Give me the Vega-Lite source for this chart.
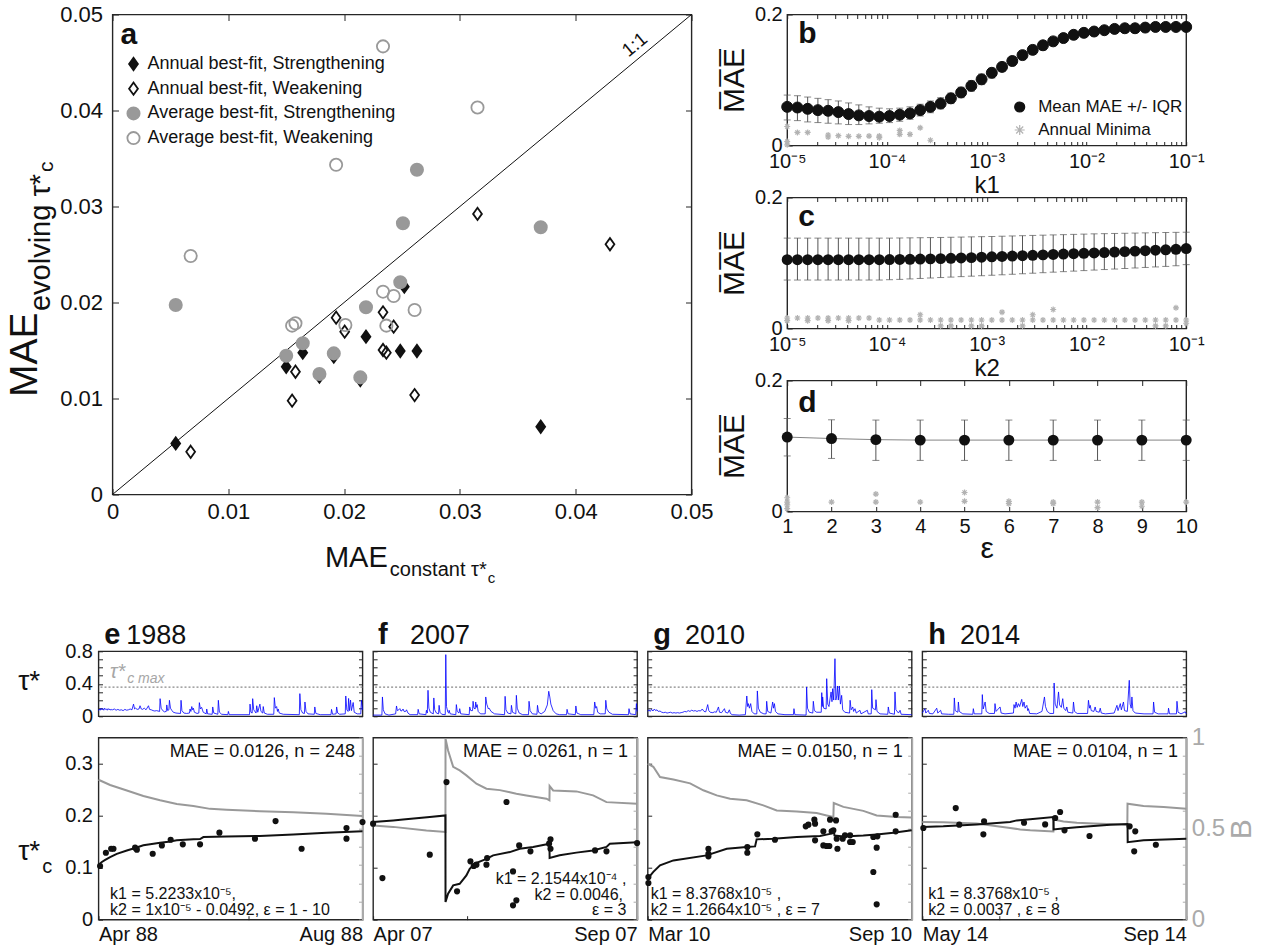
{
"$schema":"https://vega.github.io/schema/vega-lite/v6.json",
"background":"white",
"padding":{"left":4.5,"top":2.5,"right":5,"bottom":5},
"config":{
 "font":"Liberation Sans",
 "view":{"stroke":"#262626","strokeWidth":1.4},
 "axis":{"grid":false,"domain":false,"labelFont":"Liberation Sans","labelFontSize":20,"labelColor":"#111","titleFont":"Liberation Sans","titleFontWeight":"normal","titleColor":"#111","tickColor":"#262626","tickSize":-5,"tickWidth":1,"labelPadding":13,"labelFlush":false,"labelOverlap":false},
 "legend":{"labelFont":"Liberation Sans","labelColor":"#111","labelLimit":400},
 "text":{"font":"Liberation Sans","color":"#111"}
},
"resolve":{"scale":{"shape":"independent","fill":"independent","stroke":"independent"}},
"datasets":{
 "a_pts":[
  {"x":0.00546,"y":0.00532,"g":"AS"},{"x":0.015,"y":0.01331,"g":"AS"},{"x":0.01643,"y":0.01477,"g":"AS"},{"x":0.01787,"y":0.01227,"g":"AS"},{"x":0.01911,"y":0.01436,"g":"AS"},{"x":0.0214,"y":0.01192,"g":"AS"},{"x":0.02189,"y":0.01644,"g":"AS"},{"x":0.02485,"y":0.01495,"g":"AS"},{"x":0.0252,"y":0.02165,"g":"AS"},{"x":0.02629,"y":0.01495,"g":"AS"},{"x":0.03698,"y":0.00706,"g":"AS"},
  {"x":0.00675,"y":0.00445,"g":"AW"},{"x":0.01551,"y":0.00977,"g":"AW"},{"x":0.0158,"y":0.01279,"g":"AW"},{"x":0.01931,"y":0.01842,"g":"AW"},{"x":0.02005,"y":0.01696,"g":"AW"},{"x":0.02336,"y":0.01898,"g":"AW"},{"x":0.02336,"y":0.01505,"g":"AW"},{"x":0.02365,"y":0.01477,"g":"AW"},{"x":0.02428,"y":0.01748,"g":"AW"},{"x":0.02609,"y":0.01036,"g":"AW"},{"x":0.03152,"y":0.02923,"g":"AW"},{"x":0.04296,"y":0.02607,"g":"AW"},
  {"x":0.00546,"y":0.01974,"g":"VS"},{"x":0.015,"y":0.01446,"g":"VS"},{"x":0.01643,"y":0.01575,"g":"VS"},{"x":0.01787,"y":0.01255,"g":"VS"},{"x":0.01911,"y":0.0147,"g":"VS"},{"x":0.0214,"y":0.0122,"g":"VS"},{"x":0.02189,"y":0.0195,"g":"VS"},{"x":0.02485,"y":0.02211,"g":"VS"},{"x":0.02508,"y":0.02826,"g":"VS"},{"x":0.02629,"y":0.03382,"g":"VS"},{"x":0.03698,"y":0.02784,"g":"VS"},
  {"x":0.00675,"y":0.02485,"g":"VW"},{"x":0.01551,"y":0.01759,"g":"VW"},{"x":0.0158,"y":0.01783,"g":"VW"},{"x":0.01931,"y":0.03434,"g":"VW"},{"x":0.02011,"y":0.01766,"g":"VW"},{"x":0.02336,"y":0.04668,"g":"VW"},{"x":0.02336,"y":0.02113,"g":"VW"},{"x":0.02365,"y":0.01759,"g":"VW"},{"x":0.02428,"y":0.02068,"g":"VW"},{"x":0.02609,"y":0.01922,"g":"VW"},{"x":0.03152,"y":0.04032,"g":"VW"}
 ],
 "b_mean":[
  {"k":0.00001,"m":0.059,"lo":0.039,"hi":0.077,"s":"mean"},{"k":0.000012664,"m":0.058,"lo":0.038,"hi":0.076,"s":"mean"},{"k":0.000016037,"m":0.056,"lo":0.036,"hi":0.074,"s":"mean"},{"k":0.000020309,"m":0.054,"lo":0.035,"hi":0.072,"s":"mean"},{"k":0.000025719,"m":0.053,"lo":0.034,"hi":0.07,"s":"mean"},{"k":0.00003257,"m":0.051,"lo":0.033,"hi":0.068,"s":"mean"},{"k":0.000041246,"m":0.048,"lo":0.032,"hi":0.065,"s":"mean"},{"k":0.000052233,"m":0.046,"lo":0.032,"hi":0.062,"s":"mean"},{"k":0.000066147,"m":0.045,"lo":0.033,"hi":0.059,"s":"mean"},{"k":0.000083768,"m":0.044,"lo":0.034,"hi":0.057,"s":"mean"},
  {"k":0.00010608,"m":0.045,"lo":0.035,"hi":0.056,"s":"mean"},{"k":0.00013434,"m":0.047,"lo":0.037,"hi":0.057,"s":"mean"},{"k":0.00017013,"m":0.049,"lo":0.04,"hi":0.059,"s":"mean"},{"k":0.00021544,"m":0.054,"lo":0.045,"hi":0.063,"s":"mean"},{"k":0.00027283,"m":0.059,"lo":0.05,"hi":0.068,"s":"mean"},{"k":0.00034551,"m":0.064,"lo":0.056,"hi":0.073,"s":"mean"},{"k":0.00043755,"m":0.072,"lo":0.064,"hi":0.08,"s":"mean"},{"k":0.0005541,"m":0.081,"lo":0.073,"hi":0.089,"s":"mean"},{"k":0.0007017,"m":0.091,"lo":0.083,"hi":0.099,"s":"mean"},{"k":0.00088862,"m":0.101,"lo":0.093,"hi":0.109,"s":"mean"},
  {"k":0.0011253,"m":0.111,"lo":0.103,"hi":0.118,"s":"mean"},{"k":0.0014251,"m":0.12,"lo":0.113,"hi":0.127,"s":"mean"},{"k":0.0018047,"m":0.129,"lo":0.122,"hi":0.136,"s":"mean"},{"k":0.0022855,"m":0.138,"lo":0.131,"hi":0.145,"s":"mean"},{"k":0.0028943,"m":0.146,"lo":0.139,"hi":0.153,"s":"mean"},{"k":0.0036652,"m":0.153,"lo":0.146,"hi":0.159,"s":"mean"},{"k":0.0046416,"m":0.159,"lo":0.153,"hi":0.165,"s":"mean"},{"k":0.005878,"m":0.164,"lo":0.158,"hi":0.17,"s":"mean"},{"k":0.0074438,"m":0.169,"lo":0.163,"hi":0.174,"s":"mean"},{"k":0.0094267,"m":0.172,"lo":0.167,"hi":0.177,"s":"mean"},
  {"k":0.011938,"m":0.174,"lo":0.169,"hi":0.179,"s":"mean"},{"k":0.015118,"m":0.176,"lo":0.172,"hi":0.18,"s":"mean"},{"k":0.019145,"m":0.178,"lo":0.174,"hi":0.182,"s":"mean"},{"k":0.024245,"m":0.179,"lo":0.175,"hi":0.183,"s":"mean"},{"k":0.030703,"m":0.179,"lo":0.175,"hi":0.183,"s":"mean"},{"k":0.038882,"m":0.18,"lo":0.176,"hi":0.184,"s":"mean"},{"k":0.049239,"m":0.181,"lo":0.177,"hi":0.184,"s":"mean"},{"k":0.062355,"m":0.181,"lo":0.177,"hi":0.184,"s":"mean"},{"k":0.078965,"m":0.181,"lo":0.178,"hi":0.184,"s":"mean"},{"k":0.1,"m":0.181,"lo":0.178,"hi":0.184,"s":"mean"}
 ],
 "b_min":[
  {"k":0.00001,"v":0.029,"s":"min"},{"k":0.00001,"v":0.006,"s":"min"},{"k":0.00001,"v":0.001,"s":"min"},{"k":0.000012664,"v":0.02,"s":"min"},{"k":0.000016037,"v":0.02,"s":"min"},{"k":0.000025719,"v":0.016,"s":"min"},{"k":0.000025719,"v":0.013,"s":"min"},{"k":0.00003257,"v":0.015,"s":"min"},{"k":0.000041246,"v":0.014,"s":"min"},{"k":0.000052233,"v":0.014,"s":"min"},{"k":0.000066147,"v":0.0144,"s":"min"},{"k":0.000083768,"v":0.0144,"s":"min"},{"k":0.000083768,"v":0.012,"s":"min"},{"k":0.00013434,"v":0.023,"s":"min"},{"k":0.00013434,"v":0.017,"s":"min"},{"k":0.00017013,"v":0.017,"s":"min"},{"k":0.00021544,"v":0.027,"s":"min"},{"k":0.00027283,"v":0.008,"s":"min"}
 ],
 "c_mean":[
  {"k":0.00001,"m":0.105,"lo":0.074,"hi":0.138},{"k":0.000012664,"m":0.105,"lo":0.074,"hi":0.138},{"k":0.000016037,"m":0.105,"lo":0.074,"hi":0.138},{"k":0.000020309,"m":0.105,"lo":0.074,"hi":0.138},{"k":0.000025719,"m":0.105,"lo":0.074,"hi":0.138},{"k":0.00003257,"m":0.105,"lo":0.074,"hi":0.138},{"k":0.000041246,"m":0.105,"lo":0.074,"hi":0.138},{"k":0.000052233,"m":0.105,"lo":0.074,"hi":0.138},{"k":0.000066147,"m":0.105,"lo":0.074,"hi":0.138},{"k":0.000083768,"m":0.105,"lo":0.074,"hi":0.138},
  {"k":0.00010608,"m":0.1052,"lo":0.0745,"hi":0.138},{"k":0.00013434,"m":0.1054,"lo":0.075,"hi":0.1382},{"k":0.00017013,"m":0.1057,"lo":0.0757,"hi":0.1384},{"k":0.00021544,"m":0.106,"lo":0.0764,"hi":0.1386},{"k":0.00027283,"m":0.1063,"lo":0.0771,"hi":0.1388},{"k":0.00034551,"m":0.1067,"lo":0.0778,"hi":0.139},{"k":0.00043755,"m":0.1072,"lo":0.0785,"hi":0.1393},{"k":0.0005541,"m":0.1077,"lo":0.0792,"hi":0.1396},{"k":0.0007017,"m":0.1082,"lo":0.0799,"hi":0.1399},{"k":0.00088862,"m":0.1088,"lo":0.0806,"hi":0.1402},
  {"k":0.0011253,"m":0.1094,"lo":0.0813,"hi":0.1405},{"k":0.0014251,"m":0.11,"lo":0.082,"hi":0.1409},{"k":0.0018047,"m":0.1106,"lo":0.0828,"hi":0.1413},{"k":0.0022855,"m":0.1112,"lo":0.0836,"hi":0.1417},{"k":0.0028943,"m":0.1118,"lo":0.0844,"hi":0.1421},{"k":0.0036652,"m":0.1124,"lo":0.0852,"hi":0.1425},{"k":0.0046416,"m":0.113,"lo":0.086,"hi":0.1429},{"k":0.005878,"m":0.1136,"lo":0.0868,"hi":0.1433},{"k":0.0074438,"m":0.1142,"lo":0.0876,"hi":0.1437},{"k":0.0094267,"m":0.1148,"lo":0.0884,"hi":0.1441},
  {"k":0.011938,"m":0.1154,"lo":0.0892,"hi":0.1445},{"k":0.015118,"m":0.116,"lo":0.09,"hi":0.1448},{"k":0.019145,"m":0.1167,"lo":0.0908,"hi":0.1451},{"k":0.024245,"m":0.1174,"lo":0.0916,"hi":0.1454},{"k":0.030703,"m":0.1181,"lo":0.0924,"hi":0.1457},{"k":0.038882,"m":0.1188,"lo":0.0932,"hi":0.146},{"k":0.049239,"m":0.1195,"lo":0.094,"hi":0.1463},{"k":0.062355,"m":0.1202,"lo":0.0948,"hi":0.1466},{"k":0.078965,"m":0.1209,"lo":0.0958,"hi":0.1468},{"k":0.1,"m":0.122,"lo":0.0975,"hi":0.147}
 ],
 "c_min":[
  {"k":0.00001,"v":0.016},{"k":0.00001,"v":0.012},{"k":0.000012664,"v":0.016},{"k":0.000016037,"v":0.016},{"k":0.000016037,"v":0.012},{"k":0.000020309,"v":0.016},{"k":0.000025719,"v":0.016},{"k":0.000025719,"v":0.012},{"k":0.00003257,"v":0.016},{"k":0.000041246,"v":0.016},{"k":0.000041246,"v":0.012},{"k":0.000052233,"v":0.016},{"k":0.000066147,"v":0.016},{"k":0.000083768,"v":0.013},
  {"k":0.00010608,"v":0.013},{"k":0.00013434,"v":0.013},{"k":0.00017013,"v":0.013},{"k":0.00021544,"v":0.013},{"k":0.00021544,"v":0.021},{"k":0.00027283,"v":0.013},{"k":0.00034551,"v":0.013},{"k":0.00034551,"v":0.004},{"k":0.00043755,"v":0.013},{"k":0.00043755,"v":0.004},{"k":0.0005541,"v":0.013},{"k":0.0007017,"v":0.013},{"k":0.0007017,"v":0.004},{"k":0.00088862,"v":0.013},{"k":0.00088862,"v":0.004},
  {"k":0.0011253,"v":0.013},{"k":0.0014251,"v":0.013},{"k":0.0014251,"v":0.025},{"k":0.0018047,"v":0.013},{"k":0.0022855,"v":0.013},{"k":0.0022855,"v":0.004},{"k":0.0028943,"v":0.013},{"k":0.0028943,"v":0.021},{"k":0.0036652,"v":0.013},{"k":0.0046416,"v":0.013},{"k":0.0046416,"v":0.029},{"k":0.005878,"v":0.013},{"k":0.0074438,"v":0.013},{"k":0.0094267,"v":0.013},
  {"k":0.011938,"v":0.013},{"k":0.015118,"v":0.013},{"k":0.019145,"v":0.013},{"k":0.024245,"v":0.013},{"k":0.030703,"v":0.013},{"k":0.038882,"v":0.013},{"k":0.049239,"v":0.013},{"k":0.049239,"v":0.004},{"k":0.062355,"v":0.013},{"k":0.062355,"v":0.004},{"k":0.078965,"v":0.013},{"k":0.078965,"v":0.0316},{"k":0.1,"v":0.013},{"k":0.1,"v":0.008}
 ],
 "d_mean":[
  {"e":1,"m":0.1136,"lo":0.0848,"hi":0.142},{"e":2,"m":0.1114,"lo":0.081,"hi":0.14},{"e":3,"m":0.1097,"lo":0.078,"hi":0.1396},{"e":4,"m":0.109,"lo":0.078,"hi":0.1396},{"e":5,"m":0.109,"lo":0.078,"hi":0.1396},{"e":6,"m":0.109,"lo":0.078,"hi":0.1396},{"e":7,"m":0.109,"lo":0.078,"hi":0.1396},{"e":8,"m":0.109,"lo":0.078,"hi":0.1396},{"e":9,"m":0.109,"lo":0.078,"hi":0.1396},{"e":10,"m":0.109,"lo":0.078,"hi":0.1396}
 ],
 "d_min":[
  {"e":1,"v":0.021},{"e":1,"v":0.0144},{"e":1,"v":0.0044},{"e":1,"v":0.01},{"e":2,"v":0.0144},{"e":3,"v":0.0266},{"e":3,"v":0.0144},{"e":4,"v":0.0144},{"e":5,"v":0.029},{"e":5,"v":0.0155},{"e":6,"v":0.0155},{"e":6,"v":0.012},{"e":7,"v":0.0144},{"e":7,"v":0.012},{"e":8,"v":0.0144},{"e":8,"v":0.006},{"e":9,"v":0.0144},{"e":9,"v":0.008},{"e":10,"v":0.0144}
 ],
 "e_tau":[
  {"d":0,"t":0.07},{"d":0.5,"t":0.09},{"d":1,"t":0.075},{"d":1.5,"t":0.1},{"d":2,"t":0.08},{"d":2.5,"t":0.095},{"d":3,"t":0.075},{"d":3.5,"t":0.1},{"d":4,"t":0.085},{"d":4.5,"t":0.09},{"d":5,"t":0.075},{"d":5.5,"t":0.095},{"d":6,"t":0.08},{"d":6.5,"t":0.09},{"d":7,"t":0.075},{"d":7.5,"t":0.085},{"d":8,"t":0.08},{"d":9,"t":0.09},{"d":10,"t":0.075},{"d":11,"t":0.085},{"d":12,"t":0.075},{"d":13,"t":0.08},{"d":14,"t":0.07},{"d":15,"t":0.085},{"d":16,"t":0.075},{"d":17,"t":0.08},{"d":18,"t":0.09},{"d":19,"t":0.08},{"d":19.9,"t":0.15},{"d":20.5,"t":0.09},{"d":21,"t":0.1},{"d":22,"t":0.085},{"d":23,"t":0.09},{"d":23.6,"t":0.13},{"d":24.3,"t":0.09},{"d":25,"t":0.085},{"d":26,"t":0.1},{"d":27,"t":0.08},{"d":28.4,"t":0.13},{"d":29,"t":0.085},{"d":30,"t":0.08},{"d":31,"t":0.07},{"d":32,"t":0.065},{"d":33,"t":0.07},{"d":34.7,"t":0.06},{"d":35,"t":0.217},{"d":35.6,"t":0.1},{"d":36.5,"t":0.07},{"d":37.5,"t":0.055},{"d":38.5,"t":0.06},{"d":38.8,"t":0.14},{"d":39.3,"t":0.07},{"d":40,"t":0.08},{"d":40.3,"t":0.197},{"d":40.9,"t":0.1},{"d":41.6,"t":0.075},{"d":42.5,"t":0.05},{"d":44,"t":0.04},{"d":46.6,"t":0.035},{"d":46.9,"t":0.197},{"d":47.4,"t":0.07},{"d":48.5,"t":0.04},{"d":50,"t":0.035},{"d":51.7,"t":0.04},{"d":52,"t":0.09},{"d":52.5,"t":0.06},{"d":53,"t":0.12},{"d":53.5,"t":0.08},{"d":53.9,"t":0.1},{"d":54.5,"t":0.05},{"d":56,"t":0.035},{"d":57,"t":0.04},{"d":57.3,"t":0.168},{"d":57.9,"t":0.09},{"d":58.6,"t":0.11},{"d":59.5,"t":0.05},{"d":61.2,"t":0.03},{"d":61.5,"t":0.09},{"d":62,"t":0.03},{"d":64.6,"t":0.025},{"d":64.9,"t":0.115},{"d":65.5,"t":0.04},{"d":67.8,"t":0.025},{"d":68.1,"t":0.197},{"d":68.7,"t":0.05},{"d":70,"t":0.025},{"d":73.5,"t":0.02},{"d":73.8,"t":0.06},{"d":74.3,"t":0.02},{"d":85.8,"t":0.02},{"d":86.1,"t":0.15},{"d":86.6,"t":0.05},{"d":87.3,"t":0.04},{"d":87.6,"t":0.217},{"d":88.2,"t":0.08},{"d":89.5,"t":0.04},{"d":89.9,"t":0.13},{"d":90.5,"t":0.05},{"d":91.7,"t":0.15},{"d":92.3,"t":0.06},{"d":93.3,"t":0.04},{"d":93.6,"t":0.12},{"d":94.2,"t":0.04},{"d":96,"t":0.025},{"d":99.6,"t":0.025},{"d":99.9,"t":0.23},{"d":100.5,"t":0.1},{"d":101.2,"t":0.12},{"d":101.7,"t":0.06},{"d":102.1,"t":0.09},{"d":102.7,"t":0.04},{"d":105,"t":0.025},{"d":114.1,"t":0.02},{"d":114.4,"t":0.279},{"d":115,"t":0.08},{"d":116,"t":0.04},{"d":117,"t":0.035},{"d":117.3,"t":0.176},{"d":117.9,"t":0.06},{"d":119,"t":0.03},{"d":122.6,"t":0.025},{"d":122.9,"t":0.115},{"d":123.5,"t":0.035},{"d":126,"t":0.02},{"d":132.1,"t":0.02},{"d":132.4,"t":0.085},{"d":133,"t":0.025},{"d":135,"t":0.03},{"d":135.3,"t":0.115},{"d":135.9,"t":0.04},{"d":137,"t":0.025},{"d":140.2,"t":0.03},{"d":140.5,"t":0.25},{"d":141.1,"t":0.08},{"d":141.8,"t":0.06},{"d":142.1,"t":0.22},{"d":142.6,"t":0.07},{"d":143.2,"t":0.2},{"d":143.7,"t":0.07},{"d":144.7,"t":0.17},{"d":145.3,"t":0.05},{"d":147,"t":0.03},{"d":149,"t":0.03},{"d":149.4,"t":0.197},{"d":150,"t":0.08}
 ],
 "f_tau":[
  {"d":0,"t":0.015},{"d":5,"t":0.015},{"d":5.3,"t":0.238},{"d":5.8,"t":0.08},{"d":6.8,"t":0.03},{"d":9,"t":0.015},{"d":12.8,"t":0.03},{"d":13.3,"t":0.127},{"d":13.8,"t":0.07},{"d":14.6,"t":0.08},{"d":15.2,"t":0.095},{"d":15.8,"t":0.065},{"d":16.5,"t":0.07},{"d":17,"t":0.09},{"d":17.6,"t":0.06},{"d":18.5,"t":0.06},{"d":19,"t":0.08},{"d":19.8,"t":0.04},{"d":21,"t":0.02},{"d":25.3,"t":0.02},{"d":25.6,"t":0.086},{"d":26.2,"t":0.03},{"d":30,"t":0.02},{"d":30.3,"t":0.074},{"d":30.8,"t":0.04},{"d":31.2,"t":0.32},{"d":31.7,"t":0.1},{"d":32.5,"t":0.05},{"d":34.2,"t":0.03},{"d":34.5,"t":0.226},{"d":35,"t":0.08},{"d":36,"t":0.04},{"d":37.2,"t":0.03},{"d":37.5,"t":0.135},{"d":38,"t":0.05},{"d":39,"t":0.025},{"d":41,"t":0.02},{"d":41.3,"t":0.759},{"d":41.7,"t":0.12},{"d":42.5,"t":0.05},{"d":43,"t":0.04},{"d":43.2,"t":0.074},{"d":43.8,"t":0.03},{"d":47,"t":0.02},{"d":47.3,"t":0.144},{"d":47.8,"t":0.06},{"d":48.8,"t":0.04},{"d":49.2,"t":0.094},{"d":49.8,"t":0.03},{"d":54.6,"t":0.02},{"d":54.9,"t":0.115},{"d":55.5,"t":0.07},{"d":56.5,"t":0.07},{"d":56.8,"t":0.185},{"d":57.3,"t":0.1},{"d":58,"t":0.09},{"d":58.3,"t":0.176},{"d":58.7,"t":0.11},{"d":59.1,"t":0.144},{"d":59.7,"t":0.06},{"d":61,"t":0.03},{"d":63.7,"t":0.03},{"d":64,"t":0.238},{"d":64.6,"t":0.15},{"d":65.5,"t":0.09},{"d":65.9,"t":0.1},{"d":67,"t":0.06},{"d":69,"t":0.03},{"d":74.7,"t":0.02},{"d":75,"t":0.246},{"d":75.5,"t":0.08},{"d":76.5,"t":0.04},{"d":78.3,"t":0.03},{"d":78.6,"t":0.135},{"d":79.2,"t":0.05},{"d":81.1,"t":0.03},{"d":81.4,"t":0.258},{"d":81.9,"t":0.1},{"d":83,"t":0.04},{"d":85,"t":0.02},{"d":88.3,"t":0.02},{"d":88.6,"t":0.185},{"d":89.2,"t":0.07},{"d":90.5,"t":0.03},{"d":93.1,"t":0.025},{"d":93.4,"t":0.135},{"d":94,"t":0.05},{"d":95.5,"t":0.03},{"d":97.5,"t":0.06},{"d":99,"t":0.14},{"d":99.8,"t":0.308},{"d":100.4,"t":0.238},{"d":101,"t":0.15},{"d":102.3,"t":0.07},{"d":104,"t":0.03},{"d":106,"t":0.02},{"d":109.9,"t":0.02},{"d":110.2,"t":0.086},{"d":110.8,"t":0.03},{"d":114.9,"t":0.02},{"d":115.2,"t":0.127},{"d":115.8,"t":0.04},{"d":118,"t":0.02},{"d":125.4,"t":0.02},{"d":125.9,"t":0.176},{"d":126.5,"t":0.1},{"d":127,"t":0.12},{"d":127.6,"t":0.05},{"d":129,"t":0.03},{"d":131.9,"t":0.03},{"d":132.2,"t":0.197},{"d":132.8,"t":0.09},{"d":134,"t":0.05},{"d":136,"t":0.025},{"d":145.1,"t":0.02},{"d":145.4,"t":0.094},{"d":146,"t":0.03},{"d":149.2,"t":0.02},{"d":149.6,"t":0.156},{"d":150,"t":0.06}
 ],
 "g_tau":[
  {"d":0,"t":0.06},{"d":0.7,"t":0.08},{"d":1.4,"t":0.06},{"d":2.2,"t":0.085},{"d":3,"t":0.065},{"d":3.8,"t":0.09},{"d":4.5,"t":0.07},{"d":5.3,"t":0.08},{"d":6,"t":0.06},{"d":7,"t":0.065},{"d":8,"t":0.05},{"d":9,"t":0.045},{"d":10,"t":0.05},{"d":11,"t":0.04},{"d":12,"t":0.045},{"d":13,"t":0.05},{"d":14,"t":0.04},{"d":15,"t":0.045},{"d":16,"t":0.04},{"d":17,"t":0.045},{"d":18,"t":0.04},{"d":19,"t":0.045},{"d":20,"t":0.05},{"d":21,"t":0.06},{"d":22,"t":0.055},{"d":23,"t":0.07},{"d":24,"t":0.06},{"d":25,"t":0.075},{"d":26,"t":0.065},{"d":27,"t":0.07},{"d":28,"t":0.06},{"d":29,"t":0.07},{"d":30,"t":0.065},{"d":31,"t":0.09},{"d":32,"t":0.06},{"d":33,"t":0.055},{"d":34.1,"t":0.144},{"d":34.7,"t":0.07},{"d":35.5,"t":0.05},{"d":37,"t":0.045},{"d":38,"t":0.055},{"d":39,"t":0.05},{"d":40.2,"t":0.115},{"d":40.8,"t":0.05},{"d":42,"t":0.045},{"d":43.6,"t":0.094},{"d":44.2,"t":0.05},{"d":45.5,"t":0.04},{"d":46.4,"t":0.08},{"d":47,"t":0.035},{"d":48,"t":0.02},{"d":52,"t":0.015},{"d":55.5,"t":0.02},{"d":56.3,"t":0.25},{"d":56.8,"t":0.12},{"d":57.2,"t":0.156},{"d":57.8,"t":0.1},{"d":58.5,"t":0.156},{"d":59.2,"t":0.06},{"d":60.5,"t":0.03},{"d":62,"t":0.03},{"d":62.3,"t":0.312},{"d":62.9,"t":0.1},{"d":64,"t":0.05},{"d":66,"t":0.03},{"d":67.3,"t":0.03},{"d":67.6,"t":0.185},{"d":68.2,"t":0.06},{"d":70,"t":0.04},{"d":71,"t":0.176},{"d":71.5,"t":0.1},{"d":72,"t":0.156},{"d":72.6,"t":0.06},{"d":74,"t":0.03},{"d":78,"t":0.02},{"d":82.8,"t":0.02},{"d":83.1,"t":0.094},{"d":83.6,"t":0.02},{"d":90,"t":0.015},{"d":90.3,"t":0.361},{"d":90.8,"t":0.1},{"d":91.8,"t":0.05},{"d":93.8,"t":0.04},{"d":94.1,"t":0.185},{"d":94.7,"t":0.07},{"d":96,"t":0.05},{"d":98.6,"t":0.05},{"d":98.9,"t":0.291},{"d":99.2,"t":0.12},{"d":99.4,"t":0.238},{"d":100,"t":0.1},{"d":101.4,"t":0.09},{"d":101.7,"t":0.463},{"d":102.3,"t":0.15},{"d":103,"t":0.12},{"d":103.5,"t":0.2},{"d":104.2,"t":0.3},{"d":104.7,"t":0.18},{"d":105.1,"t":0.34},{"d":105.7,"t":0.2},{"d":106.4,"t":0.709},{"d":106.9,"t":0.2},{"d":107.4,"t":0.25},{"d":107.8,"t":0.373},{"d":108.3,"t":0.2},{"d":108.9,"t":0.373},{"d":109.5,"t":0.15},{"d":110.2,"t":0.258},{"d":110.8,"t":0.08},{"d":112,"t":0.05},{"d":114.7,"t":0.04},{"d":115,"t":0.197},{"d":115.6,"t":0.08},{"d":116.5,"t":0.115},{"d":117,"t":0.06},{"d":117.8,"t":0.094},{"d":118.5,"t":0.04},{"d":120.6,"t":0.074},{"d":121.2,"t":0.03},{"d":124.8,"t":0.074},{"d":125.3,"t":0.03},{"d":127,"t":0.03},{"d":127.3,"t":0.328},{"d":127.8,"t":0.1},{"d":129.4,"t":0.08},{"d":129.7,"t":0.205},{"d":130.3,"t":0.06},{"d":132,"t":0.03},{"d":136.4,"t":0.025},{"d":136.7,"t":0.115},{"d":137.3,"t":0.04},{"d":140.2,"t":0.025},{"d":140.5,"t":0.3},{"d":141,"t":0.08},{"d":142.5,"t":0.04},{"d":143.4,"t":0.074},{"d":144,"t":0.025},{"d":150,"t":0.02}
 ],
 "h_tau":[
  {"d":0,"t":0.04},{"d":1.5,"t":0.094},{"d":2,"t":0.04},{"d":3.4,"t":0.074},{"d":4,"t":0.035},{"d":6,"t":0.03},{"d":8.2,"t":0.1},{"d":8.8,"t":0.04},{"d":10.4,"t":0.074},{"d":11,"t":0.03},{"d":15,"t":0.025},{"d":17.9,"t":0.025},{"d":18.2,"t":0.226},{"d":18.7,"t":0.07},{"d":20.2,"t":0.05},{"d":20.5,"t":0.176},{"d":21,"t":0.06},{"d":23,"t":0.03},{"d":28.7,"t":0.025},{"d":29,"t":0.094},{"d":29.5,"t":0.03},{"d":33.8,"t":0.03},{"d":34.1,"t":0.267},{"d":34.6,"t":0.09},{"d":35.7,"t":0.176},{"d":36.3,"t":0.06},{"d":38,"t":0.035},{"d":41,"t":0.035},{"d":41.3,"t":0.156},{"d":41.9,"t":0.06},{"d":44.2,"t":0.115},{"d":44.8,"t":0.04},{"d":47,"t":0.03},{"d":51.8,"t":0.04},{"d":52.1,"t":0.144},{"d":52.7,"t":0.1},{"d":53.3,"t":0.176},{"d":53.9,"t":0.11},{"d":54.6,"t":0.156},{"d":55.3,"t":0.12},{"d":56.5,"t":0.209},{"d":57.1,"t":0.12},{"d":57.8,"t":0.176},{"d":58.4,"t":0.1},{"d":59.4,"t":0.135},{"d":59.9,"t":0.07},{"d":60.3,"t":0.094},{"d":61,"t":0.035},{"d":65,"t":0.03},{"d":68,"t":0.06},{"d":69.4,"t":0.238},{"d":70,"t":0.12},{"d":71,"t":0.06},{"d":72.5,"t":0.035},{"d":74.6,"t":0.035},{"d":74.9,"t":0.41},{"d":75.5,"t":0.15},{"d":76.5,"t":0.1},{"d":77.4,"t":0.3},{"d":78,"t":0.14},{"d":79,"t":0.11},{"d":79.8,"t":0.217},{"d":80.4,"t":0.1},{"d":81.5,"t":0.07},{"d":82.1,"t":0.115},{"d":82.7,"t":0.05},{"d":85.5,"t":0.04},{"d":85.9,"t":0.176},{"d":86.5,"t":0.06},{"d":88,"t":0.035},{"d":93.9,"t":0.035},{"d":94.4,"t":0.197},{"d":95,"t":0.1},{"d":95.4,"t":0.135},{"d":96,"t":0.07},{"d":97.5,"t":0.06},{"d":98.2,"t":0.115},{"d":98.8,"t":0.06},{"d":100.5,"t":0.05},{"d":101.1,"t":0.1},{"d":101.7,"t":0.04},{"d":104,"t":0.03},{"d":109,"t":0.04},{"d":110.6,"t":0.135},{"d":111.2,"t":0.07},{"d":112.5,"t":0.156},{"d":113.1,"t":0.08},{"d":114.3,"t":0.176},{"d":114.9,"t":0.07},{"d":116.5,"t":0.06},{"d":117.6,"t":0.443},{"d":118.1,"t":0.15},{"d":118.7,"t":0.1},{"d":119.1,"t":0.238},{"d":119.7,"t":0.07},{"d":121,"t":0.04},{"d":126,"t":0.03},{"d":131.1,"t":0.03},{"d":131.4,"t":0.176},{"d":132,"t":0.05},{"d":134,"t":0.03},{"d":139.6,"t":0.03},{"d":139.9,"t":0.1},{"d":140.5,"t":0.03},{"d":144.4,"t":0.03},{"d":144.7,"t":0.185},{"d":145.3,"t":0.05},{"d":147,"t":0.03},{"d":149.4,"t":0.055},{"d":150,"t":0.03}
 ],
 "e_fit":[{"d":0,"v":0.1058},{"d":1.9,"v":0.111},{"d":3.8,"v":0.115},{"d":6.6,"v":0.1205},{"d":10.4,"v":0.1265},{"d":16.1,"v":0.133},{"d":20.8,"v":0.138},{"d":25.5,"v":0.143},{"d":30.3,"v":0.1455},{"d":35,"v":0.148},{"d":39.7,"v":0.15},{"d":44.5,"v":0.1526},{"d":53.9,"v":0.1545},{"d":57.7,"v":0.1552},{"d":59.6,"v":0.159},{"d":72.8,"v":0.16},{"d":91.7,"v":0.161},{"d":110.7,"v":0.164},{"d":129.6,"v":0.167},{"d":150,"v":0.17}],
 "e_B":[{"d":0,"b":0.769},{"d":6.6,"b":0.74},{"d":16.1,"b":0.71},{"d":25.5,"b":0.68},{"d":35,"b":0.656},{"d":44.5,"b":0.636},{"d":53.9,"b":0.625},{"d":63.4,"b":0.609},{"d":72.8,"b":0.604},{"d":91.7,"b":0.596},{"d":110.7,"b":0.59},{"d":129.6,"b":0.582},{"d":150,"b":0.57}],
 "e_obs":[{"d":0.9,"v":0.1032},{"d":4.2,"v":0.1288},{"d":7.2,"v":0.1365},{"d":8.5,"v":0.1365},{"d":20.8,"v":0.1385},{"d":21.8,"v":0.1346},{"d":30.8,"v":0.1269},{"d":36,"v":0.1429},{"d":41,"v":0.1538},{"d":47.9,"v":0.1449},{"d":57.7,"v":0.1449},{"d":68.7,"v":0.1673},{"d":88.9,"v":0.1558},{"d":100.6,"v":0.1897},{"d":115.4,"v":0.1365},{"d":140.9,"v":0.1763},{"d":140.9,"v":0.1558},{"d":150,"v":0.1878}],
 "f_fit":[{"d":0,"v":0.1878},{"d":11.4,"v":0.191},{"d":17,"v":0.1925},{"d":32.2,"v":0.1974},{"d":41.1,"v":0.2006},{"d":41.15,"v":0.034},{"d":42.6,"v":0.05},{"d":45.5,"v":0.066},{"d":49.2,"v":0.069},{"d":53,"v":0.085},{"d":54.9,"v":0.098},{"d":57.8,"v":0.1077},{"d":64.4,"v":0.117},{"d":68.2,"v":0.1237},{"d":77.7,"v":0.13},{"d":83.3,"v":0.1365},{"d":90.9,"v":0.1397},{"d":100.2,"v":0.146},{"d":100.3,"v":0.1186},{"d":106,"v":0.124},{"d":115.5,"v":0.129},{"d":125,"v":0.133},{"d":132.6,"v":0.14},{"d":134.5,"v":0.146},{"d":150,"v":0.149}],
 "f_B":[{"d":0,"b":0.518},{"d":11.4,"b":0.51},{"d":30.3,"b":0.49},{"d":41.1,"b":0.482},{"d":41.15,"b":0.995},{"d":42.6,"b":0.93},{"d":45.5,"b":0.84},{"d":49.2,"b":0.82},{"d":53,"b":0.793},{"d":58.7,"b":0.747},{"d":64.4,"b":0.72},{"d":72,"b":0.712},{"d":77.7,"b":0.7},{"d":81.4,"b":0.692},{"d":87.1,"b":0.683},{"d":98.5,"b":0.665},{"d":100.2,"b":0.656},{"d":100.3,"b":0.734},{"d":102.3,"b":0.71},{"d":115.5,"b":0.705},{"d":125,"b":0.683},{"d":132.6,"b":0.646},{"d":150,"b":0.637}],
 "f_obs":[{"d":0,"v":0.1846},{"d":5.3,"v":0.0801},{"d":32.2,"v":0.125},{"d":41.7,"v":0.2647},{"d":47.7,"v":0.0545},{"d":55.3,"v":0.1122},{"d":57.2,"v":0.1032},{"d":58.7,"v":0.1058},{"d":64.4,"v":0.1058},{"d":64.8,"v":0.1186},{"d":75.8,"v":0.2263},{"d":79.5,"v":0.0929},{"d":79.5,"v":0.0276},{"d":81.4,"v":0.0372},{"d":83,"v":0.1429},{"d":89.4,"v":0.1314},{"d":100,"v":0.1462},{"d":100.8,"v":0.1545},{"d":100.8,"v":0.1365},{"d":126.1,"v":0.1333},{"d":132.6,"v":0.1314},{"d":150,"v":0.1474}],
 "g_fit":[{"d":0,"v":0.0788},{"d":3.2,"v":0.092},{"d":7,"v":0.1045},{"d":14.6,"v":0.114},{"d":33.5,"v":0.1237},{"d":44.9,"v":0.1365},{"d":56.2,"v":0.1397},{"d":61,"v":0.141},{"d":61.9,"v":0.1545},{"d":71.4,"v":0.1558},{"d":84.7,"v":0.159},{"d":97.9,"v":0.161},{"d":103.6,"v":0.165},{"d":105.9,"v":0.1686},{"d":106.1,"v":0.162},{"d":111.2,"v":0.16},{"d":122.5,"v":0.162},{"d":130.1,"v":0.164},{"d":139.6,"v":0.167},{"d":150,"v":0.1718}],
 "g_B":[{"d":0,"b":0.857},{"d":3.2,"b":0.84},{"d":7,"b":0.784},{"d":14.6,"b":0.77},{"d":24.1,"b":0.749},{"d":31.6,"b":0.711},{"d":39.2,"b":0.683},{"d":46.8,"b":0.665},{"d":56.2,"b":0.656},{"d":65.7,"b":0.628},{"d":73.3,"b":0.6},{"d":84.7,"b":0.595},{"d":96,"b":0.586},{"d":101.7,"b":0.573},{"d":105.5,"b":0.564},{"d":105.7,"b":0.641},{"d":111.2,"b":0.62},{"d":122.5,"b":0.598},{"d":130.1,"b":0.573},{"d":141.5,"b":0.564},{"d":150,"b":0.562}],
 "g_obs":[{"d":0.4,"v":0.0821},{"d":0.4,"v":0.0705},{"d":34.5,"v":0.1365},{"d":34.5,"v":0.1269},{"d":34.5,"v":0.1218},{"d":56.6,"v":0.1397},{"d":56.6,"v":0.1288},{"d":62.3,"v":0.1641},{"d":72.3,"v":0.1538},{"d":89.8,"v":0.1795},{"d":91.3,"v":0.1827},{"d":94.7,"v":0.1923},{"d":95.1,"v":0.1846},{"d":95.1,"v":0.1526},{"d":99.8,"v":0.1699},{"d":99.8,"v":0.1429},{"d":101.7,"v":0.1417},{"d":103.2,"v":0.1417},{"d":103.6,"v":0.1923},{"d":104.5,"v":0.1699},{"d":105.5,"v":0.1718},{"d":107,"v":0.191},{"d":107.4,"v":0.1558},{"d":107.8,"v":0.1365},{"d":110.8,"v":0.1558},{"d":112.1,"v":0.1622},{"d":115,"v":0.1494},{"d":116.5,"v":0.1494},{"d":115,"v":0.1622},{"d":128.2,"v":0.159},{"d":130.5,"v":0.1603},{"d":130.1,"v":0.1385},{"d":128.2,"v":0.0917},{"d":130.1,"v":0.0295},{"d":140.9,"v":0.2019},{"d":140.9,"v":0.1699}],
 "h_fit":[{"d":0,"v":0.1782},{"d":11.9,"v":0.1795},{"d":30.9,"v":0.183},{"d":49.9,"v":0.1878},{"d":53.7,"v":0.191},{"d":61.3,"v":0.193},{"d":74.5,"v":0.1974},{"d":74.6,"v":0.1737},{"d":78.3,"v":0.175},{"d":87.8,"v":0.178},{"d":106.8,"v":0.1827},{"d":116.6,"v":0.184},{"d":116.7,"v":0.149},{"d":125.7,"v":0.153},{"d":150,"v":0.1558}],
 "h_B":[{"d":0,"b":0.537},{"d":11.9,"b":0.535},{"d":30.9,"b":0.529},{"d":49.9,"b":0.504},{"d":55.6,"b":0.496},{"d":61.3,"b":0.491},{"d":74.5,"b":0.485},{"d":74.6,"b":0.551},{"d":80.2,"b":0.54},{"d":87.8,"b":0.533},{"d":97.3,"b":0.529},{"d":116.5,"b":0.522},{"d":116.6,"b":0.637},{"d":125.7,"b":0.625},{"d":137.1,"b":0.619},{"d":150,"b":0.61}],
 "h_obs":[{"d":0.6,"v":0.1763},{"d":19,"v":0.2147},{"d":21,"v":0.1827},{"d":35.1,"v":0.1891},{"d":34.7,"v":0.1641},{"d":57.8,"v":0.1865},{"d":69.8,"v":0.1833},{"d":75.5,"v":0.1955},{"d":78.3,"v":0.2071},{"d":80.8,"v":0.1718},{"d":95,"v":0.1609},{"d":117.8,"v":0.1795},{"d":121,"v":0.1699},{"d":120.4,"v":0.1314},{"d":132.7,"v":0.1442}]
},
"bounds":"flush",
"spacing":636.8,
"vconcat":[
 {"bounds":"flush","spacing":688.7,"resolve":{"scale":{"shape":"independent","fill":"independent","stroke":"independent"}},"hconcat":[
  {"bounds":"flush","spacing":0,"resolve":{"scale":{"shape":"independent","fill":"independent","stroke":"independent"}},"hconcat":[
   {"width":13.4,"height":10,"view":{"stroke":null},"data":{"values":[{}]},"mark":{"type":"text","text":" "},"encoding":{}},
   {"width":579,"height":480,
    "resolve":{"axis":{"x":"independent","y":"independent"}},
    "layer":[
     {"data":{"values":[{}]},"mark":{"type":"rule","color":"#111","strokeWidth":1},
      "encoding":{
       "x":{"datum":0,"type":"quantitative","scale":{"domain":[0,0.05],"nice":false},"axis":{"values":[0,0.01,0.02,0.03,0.04,0.05],"labelExpr":"datum.value == 0 ? '0' : format(datum.value, '.2f')","title":null,"labelPadding":13,"tickSize":-6,"labelFontSize":22}},
       "y":{"datum":0,"type":"quantitative","scale":{"domain":[0,0.05],"nice":false},"axis":{"values":[0,0.01,0.02,0.03,0.04,0.05],"labelExpr":"datum.value == 0 ? '0' : format(datum.value, '.2f')","title":null,"labelPadding":16,"tickSize":-6,"labelFontSize":22}},
       "x2":{"datum":0.05},"y2":{"datum":0.05}}},
     {"data":{"name":"a_pts"},"mark":{"type":"point","size":150,"strokeWidth":1.8,"opacity":1},
      "encoding":{
       "x":{"field":"x","type":"quantitative","scale":{"domain":[0,0.05],"nice":false},"axis":null},
       "y":{"field":"y","type":"quantitative","scale":{"domain":[0,0.05],"nice":false},"axis":null},
       "shape":{"field":"g","type":"nominal","scale":{"domain":["AS","AW","VS","VW"],"range":["M0,-1L0.72,0L0,1L-0.72,0Z","M0,-1L0.72,0L0,1L-0.72,0Z","circle","circle"]},"legend":{"title":null,"orient":"none","legendX":12,"legendY":40.5,"labelFontSize":18,"labelLimit":400,"symbolSize":150,"symbolStrokeWidth":1.8,"rowPadding":4.7,"labelOffset":5,"padding":0,"labelExpr":"datum.label == 'AS' ? 'Annual best-fit, Strengthening' : datum.label == 'AW' ? 'Annual best-fit, Weakening' : datum.label == 'VS' ? 'Average best-fit, Strengthening' : 'Average best-fit, Weakening'"}},
       "fill":{"field":"g","type":"nominal","scale":{"domain":["AS","AW","VS","VW"],"range":["#111111","transparent","#999999","transparent"]},"legend":{"title":null,"orient":"none","legendX":12,"legendY":40.5,"labelFontSize":18,"labelLimit":400,"symbolSize":150,"symbolStrokeWidth":1.8,"rowPadding":4.7,"labelOffset":5,"padding":0,"labelExpr":"datum.label == 'AS' ? 'Annual best-fit, Strengthening' : datum.label == 'AW' ? 'Annual best-fit, Weakening' : datum.label == 'VS' ? 'Average best-fit, Strengthening' : 'Average best-fit, Weakening'"}},
       "stroke":{"field":"g","type":"nominal","scale":{"domain":["AS","AW","VS","VW"],"range":["#111111","#111111","#999999","#999999"]},"legend":{"title":null,"orient":"none","legendX":12,"legendY":40.5,"labelFontSize":18,"labelLimit":400,"symbolSize":150,"symbolStrokeWidth":1.8,"rowPadding":4.7,"labelOffset":5,"padding":0,"labelExpr":"datum.label == 'AS' ? 'Annual best-fit, Strengthening' : datum.label == 'AW' ? 'Annual best-fit, Weakening' : datum.label == 'VS' ? 'Average best-fit, Strengthening' : 'Average best-fit, Weakening'"}}}},
     {"data":{"values":[{}]},"mark":{"type":"text","text":"1:1","fontSize":19,"angle":320.3,"align":"center","baseline":"middle"},"encoding":{"x":{"datum":0.0451,"type":"quantitative","axis":{"orient":"top","values":[0,0.01,0.02,0.03,0.04,0.05],"labels":false,"title":null,"tickSize":-6}},"y":{"datum":0.04685,"type":"quantitative","axis":{"orient":"right","values":[0,0.01,0.02,0.03,0.04,0.05],"labels":false,"title":null,"tickSize":-6}}}},
     {"data":{"values":[{}]},"mark":{"type":"text","text":"a","fontSize":30,"fontWeight":"bold","align":"left","baseline":"middle"},"encoding":{"x":{"datum":0.0007,"type":"quantitative","axis":null},"y":{"datum":0.0479,"type":"quantitative","axis":null}}},
     {"data":{"values":[{}]},"mark":{"type":"text","text":"MAE","fontSize":29,"align":"right","baseline":"middle"},"encoding":{"x":{"datum":0.02377,"type":"quantitative","axis":null},"y":{"datum":-0.00662,"type":"quantitative","axis":null}}},
     {"data":{"values":[{}]},"mark":{"type":"text","text":"constant τ*","fontSize":20,"align":"left","baseline":"middle"},"encoding":{"x":{"datum":0.02395,"type":"quantitative","axis":null},"y":{"datum":-0.0079,"type":"quantitative","axis":null}}},
     {"data":{"values":[{}]},"mark":{"type":"text","text":"c","fontSize":15,"align":"left","baseline":"middle"},"encoding":{"x":{"datum":0.03241,"type":"quantitative","axis":null},"y":{"datum":-0.00865,"type":"quantitative","axis":null}}},
     {"data":{"values":[{}]},"mark":{"type":"text","text":"MAE","fontSize":39,"angle":270,"align":"left","baseline":"middle"},"encoding":{"x":{"datum":-0.00757,"type":"quantitative","axis":null},"y":{"datum":0.01016,"type":"quantitative","axis":null}}},
     {"data":{"values":[{}]},"mark":{"type":"text","text":"evolving τ*","fontSize":29,"angle":270,"align":"left","baseline":"middle"},"encoding":{"x":{"datum":-0.00619,"type":"quantitative","axis":null},"y":{"datum":0.01911,"type":"quantitative","axis":null}}},
     {"data":{"values":[{}]},"mark":{"type":"text","text":"c","fontSize":21,"angle":270,"align":"left","baseline":"middle"},"encoding":{"x":{"datum":-0.00566,"type":"quantitative","axis":null},"y":{"datum":0.03359,"type":"quantitative","axis":null}}}
    ]}
  ]},
  {"bounds":"flush","spacing":52,"resolve":{"scale":{"shape":"independent","fill":"independent","stroke":"independent"}},"vconcat":[
   {"width":399,"height":131,
    "resolve":{"axis":{"x":"independent","y":"independent"}},
    "layer":[
     {"data":{"name":"b_mean"},"mark":{"type":"rule","color":"#555","strokeWidth":1},
      "encoding":{
       "x":{"field":"k","type":"quantitative","scale":{"type":"log","domain":[0.00001,0.1],"nice":false},"axis":{"values":[0.00001,0.00002,0.00003,0.00004,0.00005,0.00006,0.00007,0.00008,0.00009,0.0001,0.0002,0.0003,0.0004,0.0005,0.0006,0.0007,0.0008,0.0009,0.001,0.002,0.003,0.004,0.005,0.006,0.007,0.008,0.009,0.01,0.02,0.03,0.04,0.05,0.06,0.07,0.08,0.09,0.1],"labelExpr":"datum.value == 0.00001 ? '10⁻⁵' : datum.value == 0.0001 ? '10⁻⁴' : datum.value == 0.001 ? '10⁻³' : datum.value == 0.01 ? '10⁻²' : datum.value == 0.1 ? '10⁻¹' : ''","title":"k1","titleFontSize":24,"titlePadding":2,"labelPadding":10,"tickSize":-4}},
       "y":{"field":"lo","type":"quantitative","scale":{"domain":[0,0.2],"nice":false},"axis":{"values":[0,0.2],"labelExpr":"datum.value == 0 ? '0' : '0.2'","title":"M\u0305A\u0305E\u0305","titleFontSize":30,"titlePadding":5,"labelPadding":10,"tickSize":-5}},
       "y2":{"field":"hi"}}},
     {"data":{"name":"b_mean"},"mark":{"type":"tick","orient":"horizontal","size":7,"thickness":1,"color":"#555"},"encoding":{"x":{"field":"k","type":"quantitative","axis":null},"y":{"field":"lo","type":"quantitative","axis":null}}},
     {"data":{"name":"b_mean"},"mark":{"type":"tick","orient":"horizontal","size":7,"thickness":1,"color":"#555"},"encoding":{"x":{"field":"k","type":"quantitative","axis":null},"y":{"field":"hi","type":"quantitative","axis":null}}},
     {"data":{"name":"b_min"},"mark":{"type":"point","size":36,"strokeWidth":1.2,"opacity":1},
      "encoding":{"x":{"field":"k","type":"quantitative","axis":null},"y":{"field":"v","type":"quantitative","axis":null},
       "shape":{"field":"s","type":"nominal","scale":{"domain":["mean","min"],"range":["circle","M-1,0L1,0M0,-1L0,1M-0.7,-0.7L0.7,0.7M-0.7,0.7L0.7,-0.7"]},"legend":{"title":null,"orient":"none","legendX":224,"legendY":84,"labelFontSize":17,"labelLimit":400,"symbolSize":100,"symbolStrokeWidth":1.2,"rowPadding":5,"labelOffset":10,"padding":0,"labelExpr":"datum.label == 'mean' ? 'Mean MAE +/- IQR' : 'Annual Minima'"}},
       "fill":{"field":"s","type":"nominal","scale":{"domain":["mean","min"],"range":["#111111","transparent"]},"legend":{"title":null,"orient":"none","legendX":224,"legendY":84,"labelFontSize":17,"labelLimit":400,"symbolSize":100,"symbolStrokeWidth":1.2,"rowPadding":5,"labelOffset":10,"padding":0,"labelExpr":"datum.label == 'mean' ? 'Mean MAE +/- IQR' : 'Annual Minima'"}},
       "stroke":{"field":"s","type":"nominal","scale":{"domain":["mean","min"],"range":["#111111","#b3b3b3"]},"legend":{"title":null,"orient":"none","legendX":224,"legendY":84,"labelFontSize":17,"labelLimit":400,"symbolSize":100,"symbolStrokeWidth":1.2,"rowPadding":5,"labelOffset":10,"padding":0,"labelExpr":"datum.label == 'mean' ? 'Mean MAE +/- IQR' : 'Annual Minima'"}}}},
     {"data":{"name":"b_mean"},"mark":{"type":"point","size":120,"strokeWidth":1,"opacity":1},
      "encoding":{"x":{"field":"k","type":"quantitative","axis":null},"y":{"field":"m","type":"quantitative","axis":null},
       "shape":{"field":"s","type":"nominal","scale":{"domain":["mean","min"],"range":["circle","M-1,0L1,0M0,-1L0,1M-0.7,-0.7L0.7,0.7M-0.7,0.7L0.7,-0.7"]},"legend":{"title":null,"orient":"none","legendX":224,"legendY":84,"labelFontSize":17,"labelLimit":400,"symbolSize":100,"symbolStrokeWidth":1.2,"rowPadding":5,"labelOffset":10,"padding":0,"labelExpr":"datum.label == 'mean' ? 'Mean MAE +/- IQR' : 'Annual Minima'"}},
       "fill":{"field":"s","type":"nominal","scale":{"domain":["mean","min"],"range":["#111111","transparent"]},"legend":{"title":null,"orient":"none","legendX":224,"legendY":84,"labelFontSize":17,"labelLimit":400,"symbolSize":100,"symbolStrokeWidth":1.2,"rowPadding":5,"labelOffset":10,"padding":0,"labelExpr":"datum.label == 'mean' ? 'Mean MAE +/- IQR' : 'Annual Minima'"}},
       "stroke":{"field":"s","type":"nominal","scale":{"domain":["mean","min"],"range":["#111111","#b3b3b3"]},"legend":{"title":null,"orient":"none","legendX":224,"legendY":84,"labelFontSize":17,"labelLimit":400,"symbolSize":100,"symbolStrokeWidth":1.2,"rowPadding":5,"labelOffset":10,"padding":0,"labelExpr":"datum.label == 'mean' ? 'Mean MAE +/- IQR' : 'Annual Minima'"}}}},
     {"data":{"values":[{}]},"mark":{"type":"text","text":"b","fontSize":30,"fontWeight":"bold","align":"left","baseline":"middle"},"encoding":{"x":{"datum":0.0000129,"type":"quantitative","axis":{"orient":"top","values":[0.00001,0.00002,0.00003,0.00004,0.00005,0.00006,0.00007,0.00008,0.00009,0.0001,0.0002,0.0003,0.0004,0.0005,0.0006,0.0007,0.0008,0.0009,0.001,0.002,0.003,0.004,0.005,0.006,0.007,0.008,0.009,0.01,0.02,0.03,0.04,0.05,0.06,0.07,0.08,0.09,0.1],"labels":false,"title":null,"tickSize":-4}},"y":{"datum":0.1695,"type":"quantitative","axis":null}}}
    ]},
   {"width":399,"height":131,
    "resolve":{"axis":{"x":"independent","y":"independent"}},
    "layer":[
     {"data":{"name":"c_mean"},"mark":{"type":"rule","color":"#555","strokeWidth":1},
      "encoding":{
       "x":{"field":"k","type":"quantitative","scale":{"type":"log","domain":[0.00001,0.1],"nice":false},"axis":{"values":[0.00001,0.00002,0.00003,0.00004,0.00005,0.00006,0.00007,0.00008,0.00009,0.0001,0.0002,0.0003,0.0004,0.0005,0.0006,0.0007,0.0008,0.0009,0.001,0.002,0.003,0.004,0.005,0.006,0.007,0.008,0.009,0.01,0.02,0.03,0.04,0.05,0.06,0.07,0.08,0.09,0.1],"labelExpr":"datum.value == 0.00001 ? '10⁻⁵' : datum.value == 0.0001 ? '10⁻⁴' : datum.value == 0.001 ? '10⁻³' : datum.value == 0.01 ? '10⁻²' : datum.value == 0.1 ? '10⁻¹' : ''","title":"k2","titleFontSize":24,"titlePadding":2,"labelPadding":10,"tickSize":-4}},
       "y":{"field":"lo","type":"quantitative","scale":{"domain":[0,0.2],"nice":false},"axis":{"values":[0,0.2],"labelExpr":"datum.value == 0 ? '0' : '0.2'","title":"M\u0305A\u0305E\u0305","titleFontSize":30,"titlePadding":5,"labelPadding":10,"tickSize":-5}},
       "y2":{"field":"hi"}}},
     {"data":{"name":"c_mean"},"mark":{"type":"tick","orient":"horizontal","size":7,"thickness":1,"color":"#555"},"encoding":{"x":{"field":"k","type":"quantitative","axis":null},"y":{"field":"lo","type":"quantitative","axis":null}}},
     {"data":{"name":"c_mean"},"mark":{"type":"tick","orient":"horizontal","size":7,"thickness":1,"color":"#555"},"encoding":{"x":{"field":"k","type":"quantitative","axis":null},"y":{"field":"hi","type":"quantitative","axis":null}}},
     {"data":{"name":"c_min"},"mark":{"type":"point","size":36,"strokeWidth":1.2,"opacity":1,"shape":"M-1,0L1,0M0,-1L0,1M-0.7,-0.7L0.7,0.7M-0.7,0.7L0.7,-0.7","stroke":"#b3b3b3","fill":"transparent"},
      "encoding":{"x":{"field":"k","type":"quantitative","axis":null},"y":{"field":"v","type":"quantitative","axis":null}}},
     {"data":{"name":"c_mean"},"mark":{"type":"circle","size":120,"color":"#111111","opacity":1},
      "encoding":{"x":{"field":"k","type":"quantitative","axis":null},"y":{"field":"m","type":"quantitative","axis":null}}},
     {"data":{"values":[{}]},"mark":{"type":"text","text":"c","fontSize":30,"fontWeight":"bold","align":"left","baseline":"middle"},"encoding":{"x":{"datum":0.0000129,"type":"quantitative","axis":{"orient":"top","values":[0.00001,0.00002,0.00003,0.00004,0.00005,0.00006,0.00007,0.00008,0.00009,0.0001,0.0002,0.0003,0.0004,0.0005,0.0006,0.0007,0.0008,0.0009,0.001,0.002,0.003,0.004,0.005,0.006,0.007,0.008,0.009,0.01,0.02,0.03,0.04,0.05,0.06,0.07,0.08,0.09,0.1],"labels":false,"title":null,"tickSize":-4}},"y":{"datum":0.1695,"type":"quantitative","axis":null}}}
    ]},
   {"width":399,"height":131,
    "resolve":{"axis":{"x":"independent","y":"independent"}},
    "layer":[
     {"data":{"name":"d_mean"},"mark":{"type":"rule","color":"#555","strokeWidth":1},
      "encoding":{
       "x":{"field":"e","type":"quantitative","scale":{"domain":[1,10],"nice":false},"axis":{"values":[1,2,3,4,5,6,7,8,9,10],"title":"ε","titleFontSize":30,"titlePadding":-3,"labelPadding":10,"tickSize":-5}},
       "y":{"field":"lo","type":"quantitative","scale":{"domain":[0,0.2],"nice":false},"axis":{"values":[0,0.2],"labelExpr":"datum.value == 0 ? '0' : '0.2'","title":"M\u0305A\u0305E\u0305","titleFontSize":30,"titlePadding":5,"labelPadding":10,"tickSize":-5}},
       "y2":{"field":"hi"}}},
     {"data":{"name":"d_mean"},"mark":{"type":"tick","orient":"horizontal","size":7,"thickness":1,"color":"#555"},"encoding":{"x":{"field":"e","type":"quantitative","axis":null},"y":{"field":"lo","type":"quantitative","axis":null}}},
     {"data":{"name":"d_mean"},"mark":{"type":"tick","orient":"horizontal","size":7,"thickness":1,"color":"#555"},"encoding":{"x":{"field":"e","type":"quantitative","axis":null},"y":{"field":"hi","type":"quantitative","axis":null}}},
     {"data":{"name":"d_mean"},"mark":{"type":"line","color":"#666","strokeWidth":0.8},"encoding":{"x":{"field":"e","type":"quantitative","axis":null},"y":{"field":"m","type":"quantitative","axis":null}}},
     {"data":{"name":"d_min"},"mark":{"type":"point","size":36,"strokeWidth":1.2,"opacity":1,"shape":"M-1,0L1,0M0,-1L0,1M-0.7,-0.7L0.7,0.7M-0.7,0.7L0.7,-0.7","stroke":"#b3b3b3","fill":"transparent"},
      "encoding":{"x":{"field":"e","type":"quantitative","axis":null},"y":{"field":"v","type":"quantitative","axis":null}}},
     {"data":{"name":"d_mean"},"mark":{"type":"circle","size":120,"color":"#111111","opacity":1},
      "encoding":{"x":{"field":"e","type":"quantitative","axis":null},"y":{"field":"m","type":"quantitative","axis":null}}},
     {"data":{"values":[{}]},"mark":{"type":"text","text":"d","fontSize":30,"fontWeight":"bold","align":"left","baseline":"middle"},"encoding":{"x":{"datum":1.25,"type":"quantitative","axis":{"orient":"top","values":[1,2,3,4,5,6,7,8,9,10],"labels":false,"title":null,"tickSize":-5}},"y":{"datum":0.165,"type":"quantitative","axis":null}}}
    ]}
  ]}
 ]},
 {"bounds":"flush","align":"each","columns":4,"spacing":{"row":21.4,"column":10.6},"concat":[
  {"width":264,"height":65,"resolve":{"axis":{"y":"independent"}},"layer":[
   {"data":{"values":[{}]},"mark":{"type":"rule","color":"#888","strokeDash":[2,2],"strokeWidth":1.2},"encoding":{"y":{"datum":0.36,"type":"quantitative","scale":{"domain":[0,0.8],"nice":false},"axis":{"orient":"right","values":[0,0.1,0.2,0.3,0.4,0.5,0.6,0.7,0.8],"labels":false,"title":null,"tickSize":-4}}}},
   {"data":{"name":"e_tau"},"mark":{"type":"line","color":"#0000ff","strokeWidth":0.8},"encoding":{"x":{"field":"d","type":"quantitative","scale":{"domain":[0,150],"nice":false},"axis":null},"y":{"field":"t","type":"quantitative","scale":{"domain":[0,0.8],"nice":false},"axis":{"values":[0,0.1,0.2,0.3,0.4,0.5,0.6,0.7,0.8],"labelExpr":"datum.value == 0 ? '0' : datum.value == 0.4 ? '0.4' : datum.value == 0.8 ? '0.8' : ''","title":null,"tickSize":-4,"labelPadding":10}}}},
   {"data":{"values":[{}]},"mark":{"type":"text","text":"τ*","fontSize":20,"fontStyle":"italic","color":"#a6a6a6","align":"left","baseline":"middle"},"encoding":{"x":{"datum":6.6,"type":"quantitative","axis":null},"y":{"datum":0.545,"type":"quantitative","axis":null}}},
   {"data":{"values":[{}]},"mark":{"type":"text","text":"c max","fontSize":14,"fontStyle":"italic","color":"#a6a6a6","align":"left","baseline":"middle"},"encoding":{"x":{"datum":16.3,"type":"quantitative","axis":null},"y":{"datum":0.465,"type":"quantitative","axis":null}}},
   {"data":{"values":[{}]},"mark":{"type":"text","text":"e","fontSize":29,"fontWeight":"bold","align":"left","baseline":"alphabetic"},"encoding":{"x":{"datum":3.3,"type":"quantitative","axis":null},"y":{"datum":0.894,"type":"quantitative","axis":null}}},
   {"data":{"values":[{}]},"mark":{"type":"text","text":"1988","fontSize":27,"align":"left","baseline":"alphabetic"},"encoding":{"x":{"datum":15.8,"type":"quantitative","axis":null},"y":{"datum":0.894,"type":"quantitative","axis":null}}},
   {"data":{"values":[{}]},"mark":{"type":"text","text":"τ*","fontSize":28,"align":"left","baseline":"middle"},"encoding":{"x":{"datum":-45.6,"type":"quantitative","axis":null},"y":{"datum":0.422,"type":"quantitative","axis":null}}}
  ]},
  {"width":264,"height":65,"resolve":{"axis":{"y":"independent"}},"layer":[
   {"data":{"values":[{}]},"mark":{"type":"rule","color":"#888","strokeDash":[2,2],"strokeWidth":1.2},"encoding":{"y":{"datum":0.36,"type":"quantitative","scale":{"domain":[0,0.8],"nice":false},"axis":{"orient":"right","values":[0,0.1,0.2,0.3,0.4,0.5,0.6,0.7,0.8],"labels":false,"title":null,"tickSize":-4}}}},
   {"data":{"name":"f_tau"},"mark":{"type":"line","color":"#0000ff","strokeWidth":0.8},"encoding":{"x":{"field":"d","type":"quantitative","scale":{"domain":[0,150],"nice":false},"axis":null},"y":{"field":"t","type":"quantitative","scale":{"domain":[0,0.8],"nice":false},"axis":{"values":[0,0.1,0.2,0.3,0.4,0.5,0.6,0.7,0.8],"labels":false,"title":null,"tickSize":-4}}}},
   {"data":{"values":[{}]},"mark":{"type":"text","text":"f","fontSize":29,"fontWeight":"bold","align":"left","baseline":"alphabetic"},"encoding":{"x":{"datum":2.8,"type":"quantitative","axis":null},"y":{"datum":0.894,"type":"quantitative","axis":null}}},
   {"data":{"values":[{}]},"mark":{"type":"text","text":"2007","fontSize":27,"align":"left","baseline":"alphabetic"},"encoding":{"x":{"datum":20.9,"type":"quantitative","axis":null},"y":{"datum":0.894,"type":"quantitative","axis":null}}}
  ]},
  {"width":264,"height":65,"resolve":{"axis":{"y":"independent"}},"layer":[
   {"data":{"values":[{}]},"mark":{"type":"rule","color":"#888","strokeDash":[2,2],"strokeWidth":1.2},"encoding":{"y":{"datum":0.36,"type":"quantitative","scale":{"domain":[0,0.8],"nice":false},"axis":{"orient":"right","values":[0,0.1,0.2,0.3,0.4,0.5,0.6,0.7,0.8],"labels":false,"title":null,"tickSize":-4}}}},
   {"data":{"name":"g_tau"},"mark":{"type":"line","color":"#0000ff","strokeWidth":0.8},"encoding":{"x":{"field":"d","type":"quantitative","scale":{"domain":[0,150],"nice":false},"axis":null},"y":{"field":"t","type":"quantitative","scale":{"domain":[0,0.8],"nice":false},"axis":{"values":[0,0.1,0.2,0.3,0.4,0.5,0.6,0.7,0.8],"labels":false,"title":null,"tickSize":-4}}}},
   {"data":{"values":[{}]},"mark":{"type":"text","text":"g","fontSize":29,"fontWeight":"bold","align":"left","baseline":"alphabetic"},"encoding":{"x":{"datum":3.2,"type":"quantitative","axis":null},"y":{"datum":0.894,"type":"quantitative","axis":null}}},
   {"data":{"values":[{}]},"mark":{"type":"text","text":"2010","fontSize":27,"align":"left","baseline":"alphabetic"},"encoding":{"x":{"datum":21.2,"type":"quantitative","axis":null},"y":{"datum":0.894,"type":"quantitative","axis":null}}}
  ]},
  {"width":264,"height":65,"resolve":{"axis":{"y":"independent"}},"layer":[
   {"data":{"values":[{}]},"mark":{"type":"rule","color":"#888","strokeDash":[2,2],"strokeWidth":1.2},"encoding":{"y":{"datum":0.36,"type":"quantitative","scale":{"domain":[0,0.8],"nice":false},"axis":{"orient":"right","values":[0,0.1,0.2,0.3,0.4,0.5,0.6,0.7,0.8],"labels":false,"title":null,"tickSize":-4}}}},
   {"data":{"name":"h_tau"},"mark":{"type":"line","color":"#0000ff","strokeWidth":0.8},"encoding":{"x":{"field":"d","type":"quantitative","scale":{"domain":[0,150],"nice":false},"axis":null},"y":{"field":"t","type":"quantitative","scale":{"domain":[0,0.8],"nice":false},"axis":{"values":[0,0.1,0.2,0.3,0.4,0.5,0.6,0.7,0.8],"labels":false,"title":null,"tickSize":-4}}}},
   {"data":{"values":[{}]},"mark":{"type":"text","text":"h","fontSize":29,"fontWeight":"bold","align":"left","baseline":"alphabetic"},"encoding":{"x":{"datum":3.4,"type":"quantitative","axis":null},"y":{"datum":0.894,"type":"quantitative","axis":null}}},
   {"data":{"values":[{}]},"mark":{"type":"text","text":"2014","fontSize":27,"align":"left","baseline":"alphabetic"},"encoding":{"x":{"datum":21.4,"type":"quantitative","axis":null},"y":{"datum":0.894,"type":"quantitative","axis":null}}}
  ]},
  {"width":264,"height":182,"resolve":{"scale":{"y":"independent"}},"layer":[
   {"data":{"name":"e_B"},"mark":{"type":"line","color":"#999","strokeWidth":2},"encoding":{"x":{"field":"d","type":"quantitative","scale":{"domain":[0,150],"nice":false}},"y":{"field":"b","type":"quantitative","scale":{"domain":[0,1],"nice":false},"axis":{"orient":"right","values":[0,0.1,0.2,0.3,0.4,0.5,0.6,0.7,0.8,0.9,1],"labels":false,"title":null,"tickColor":"#aaa","tickSize":-4,"domain":true,"domainColor":"#aaa","domainWidth":2}}}},
   {"layer":[
    {"data":{"name":"e_fit"},"mark":{"type":"line","color":"#111","strokeWidth":2},"encoding":{"x":{"field":"d","type":"quantitative","scale":{"domain":[0,150],"nice":false},"axis":{"values":[0,85.5,150],"labelExpr":"datum.value == 0 ? 'Apr 88' : datum.value == 150 ? 'Aug 88' : ''","title":null,"labelFlush":true,"tickSize":-4,"labelPadding":9}},"y":{"field":"v","type":"quantitative","scale":{"domain":[0,0.35],"nice":false},"axis":{"orient":"left","values":[0,0.05,0.1,0.15,0.2,0.25,0.3,0.35],"labelExpr":"datum.value == 0 ? '0' : datum.value == 0.1 ? '0.1' : datum.value == 0.2 ? '0.2' : datum.value == 0.3 ? '0.3' : ''","title":null,"tickSize":-4,"labelPadding":10}}}},
    {"data":{"name":"e_obs"},"mark":{"type":"circle","size":38,"color":"#111","opacity":1},"encoding":{"x":{"field":"d","type":"quantitative"},"y":{"field":"v","type":"quantitative"}}},
    {"data":{"values":[{}]},"mark":{"type":"text","text":"MAE = 0.0126, n = 248","fontSize":18,"align":"right","baseline":"middle"},"encoding":{"x":{"datum":145.7,"type":"quantitative"},"y":{"datum":0.3224,"type":"quantitative"}}},
    {"data":{"values":[{}]},"mark":{"type":"text","text":"k1 = 5.2233x10⁻⁵,","fontSize":16,"align":"left","baseline":"middle"},"encoding":{"x":{"datum":6.6,"type":"quantitative"},"y":{"datum":0.05,"type":"quantitative"}}},
    {"data":{"values":[{}]},"mark":{"type":"text","text":"k2 = 1x10⁻⁵ - 0.0492, ε = 1 - 10","fontSize":16,"align":"left","baseline":"middle"},"encoding":{"x":{"datum":6.6,"type":"quantitative"},"y":{"datum":0.018,"type":"quantitative"}}},
    {"data":{"values":[{}]},"mark":{"type":"text","text":"τ*","fontSize":28,"align":"left","baseline":"middle"},"encoding":{"x":{"datum":-45.6,"type":"quantitative"},"y":{"datum":0.13,"type":"quantitative"}}},
    {"data":{"values":[{}]},"mark":{"type":"text","text":"c","fontSize":20,"align":"left","baseline":"middle"},"encoding":{"x":{"datum":-32,"type":"quantitative"},"y":{"datum":0.101,"type":"quantitative"}}}
   ]}
  ]},
  {"width":264,"height":182,"resolve":{"scale":{"y":"independent"}},"layer":[
   {"data":{"name":"f_B"},"mark":{"type":"line","color":"#999","strokeWidth":2},"encoding":{"x":{"field":"d","type":"quantitative","scale":{"domain":[0,150],"nice":false}},"y":{"field":"b","type":"quantitative","scale":{"domain":[0,1],"nice":false},"axis":{"orient":"right","values":[0,0.1,0.2,0.3,0.4,0.5,0.6,0.7,0.8,0.9,1],"labels":false,"title":null,"tickColor":"#aaa","tickSize":-4,"domain":true,"domainColor":"#aaa","domainWidth":2}}}},
   {"layer":[
    {"data":{"name":"f_fit"},"mark":{"type":"line","color":"#111","strokeWidth":2},"encoding":{"x":{"field":"d","type":"quantitative","scale":{"domain":[0,150],"nice":false},"axis":{"values":[0,53.4,150],"labelExpr":"datum.value == 0 ? 'Apr 07' : datum.value == 150 ? 'Sep 07' : ''","title":null,"labelFlush":true,"tickSize":-4,"labelPadding":9}},"y":{"field":"v","type":"quantitative","scale":{"domain":[0,0.35],"nice":false},"axis":{"orient":"left","values":[0,0.05,0.1,0.15,0.2,0.25,0.3,0.35],"labels":false,"title":null,"tickSize":-4}}}},
    {"data":{"name":"f_obs"},"mark":{"type":"circle","size":38,"color":"#111","opacity":1},"encoding":{"x":{"field":"d","type":"quantitative"},"y":{"field":"v","type":"quantitative"}}},
    {"data":{"values":[{}]},"mark":{"type":"text","text":"MAE = 0.0261, n = 1","fontSize":18,"align":"right","baseline":"middle"},"encoding":{"x":{"datum":144.9,"type":"quantitative"},"y":{"datum":0.3224,"type":"quantitative"}}},
    {"data":{"values":[{}]},"mark":{"type":"text","text":"k1 = 2.1544x10⁻⁴ ,","fontSize":16,"align":"right","baseline":"middle"},"encoding":{"x":{"datum":143.9,"type":"quantitative"},"y":{"datum":0.0788,"type":"quantitative"}}},
    {"data":{"values":[{}]},"mark":{"type":"text","text":"k2 = 0.0046,","fontSize":16,"align":"right","baseline":"middle"},"encoding":{"x":{"datum":142,"type":"quantitative"},"y":{"datum":0.0468,"type":"quantitative"}}},
    {"data":{"values":[{}]},"mark":{"type":"text","text":"ε = 3","fontSize":16,"align":"right","baseline":"middle"},"encoding":{"x":{"datum":143.9,"type":"quantitative"},"y":{"datum":0.018,"type":"quantitative"}}}
   ]}
  ]},
  {"width":264,"height":182,"resolve":{"scale":{"y":"independent"}},"layer":[
   {"data":{"name":"g_B"},"mark":{"type":"line","color":"#999","strokeWidth":2},"encoding":{"x":{"field":"d","type":"quantitative","scale":{"domain":[0,150],"nice":false}},"y":{"field":"b","type":"quantitative","scale":{"domain":[0,1],"nice":false},"axis":{"orient":"right","values":[0,0.1,0.2,0.3,0.4,0.5,0.6,0.7,0.8,0.9,1],"labels":false,"title":null,"tickColor":"#aaa","tickSize":-4,"domain":true,"domainColor":"#aaa","domainWidth":2}}}},
   {"layer":[
    {"data":{"name":"g_fit"},"mark":{"type":"line","color":"#111","strokeWidth":2},"encoding":{"x":{"field":"d","type":"quantitative","scale":{"domain":[0,150],"nice":false},"axis":{"values":[0,150],"labelExpr":"datum.value == 0 ? 'Mar 10' : datum.value == 150 ? 'Sep 10' : ''","title":null,"labelFlush":true,"tickSize":-4,"labelPadding":9}},"y":{"field":"v","type":"quantitative","scale":{"domain":[0,0.35],"nice":false},"axis":{"orient":"left","values":[0,0.05,0.1,0.15,0.2,0.25,0.3,0.35],"labels":false,"title":null,"tickSize":-4}}}},
    {"data":{"name":"g_obs"},"mark":{"type":"circle","size":38,"color":"#111","opacity":1},"encoding":{"x":{"field":"d","type":"quantitative"},"y":{"field":"v","type":"quantitative"}}},
    {"data":{"values":[{}]},"mark":{"type":"text","text":"MAE = 0.0150, n = 1","fontSize":18,"align":"right","baseline":"middle"},"encoding":{"x":{"datum":144.9,"type":"quantitative"},"y":{"datum":0.3224,"type":"quantitative"}}},
    {"data":{"values":[{}]},"mark":{"type":"text","text":"k1 = 8.3768x10⁻⁵ ,","fontSize":16,"align":"left","baseline":"middle"},"encoding":{"x":{"datum":1.7,"type":"quantitative"},"y":{"datum":0.05,"type":"quantitative"}}},
    {"data":{"values":[{}]},"mark":{"type":"text","text":"k2 = 1.2664x10⁻⁵ , ε = 7","fontSize":16,"align":"left","baseline":"middle"},"encoding":{"x":{"datum":1.7,"type":"quantitative"},"y":{"datum":0.018,"type":"quantitative"}}}
   ]}
  ]},
  {"width":264,"height":182,"resolve":{"scale":{"y":"independent"}},"layer":[
   {"data":{"name":"h_B"},"mark":{"type":"line","color":"#999","strokeWidth":2},"encoding":{"x":{"field":"d","type":"quantitative","scale":{"domain":[0,150],"nice":false}},"y":{"field":"b","type":"quantitative","scale":{"domain":[0,1],"nice":false},"axis":{"orient":"right","values":[0,0.1,0.2,0.3,0.4,0.5,0.6,0.7,0.8,0.9,1],"labelExpr":"datum.value == 0 ? '0' : datum.value == 0.5 ? '0.5' : datum.value == 1 ? '1' : ''","labelColor":"#aaa","labelFontSize":24,"labelPadding":9,"title":"B","titleColor":"#aaa","titleFontSize":30,"titleAngle":270,"titleBaseline":"top","titlePadding":2,"tickColor":"#aaa","tickSize":-4,"domain":true,"domainColor":"#aaa","domainWidth":2}}}},
   {"layer":[
    {"data":{"name":"h_fit"},"mark":{"type":"line","color":"#111","strokeWidth":2},"encoding":{"x":{"field":"d","type":"quantitative","scale":{"domain":[0,150],"nice":false},"axis":{"values":[0,43.5,150],"labelExpr":"datum.value == 0 ? 'May 14' : datum.value == 150 ? 'Sep 14' : ''","title":null,"labelFlush":true,"tickSize":-4,"labelPadding":9}},"y":{"field":"v","type":"quantitative","scale":{"domain":[0,0.35],"nice":false},"axis":{"orient":"left","values":[0,0.05,0.1,0.15,0.2,0.25,0.3,0.35],"labels":false,"title":null,"tickSize":-4}}}},
    {"data":{"name":"h_obs"},"mark":{"type":"circle","size":38,"color":"#111","opacity":1},"encoding":{"x":{"field":"d","type":"quantitative"},"y":{"field":"v","type":"quantitative"}}},
    {"data":{"values":[{}]},"mark":{"type":"text","text":"MAE = 0.0104, n = 1","fontSize":18,"align":"right","baseline":"middle"},"encoding":{"x":{"datum":145.3,"type":"quantitative"},"y":{"datum":0.3224,"type":"quantitative"}}},
    {"data":{"values":[{}]},"mark":{"type":"text","text":"k1 = 8.3768x10⁻⁵ ,","fontSize":16,"align":"left","baseline":"middle"},"encoding":{"x":{"datum":3.4,"type":"quantitative"},"y":{"datum":0.05,"type":"quantitative"}}},
    {"data":{"values":[{}]},"mark":{"type":"text","text":"k2 = 0.0037 , ε = 8","fontSize":16,"align":"left","baseline":"middle"},"encoding":{"x":{"datum":3.4,"type":"quantitative"},"y":{"datum":0.018,"type":"quantitative"}}}
   ]}
  ]}
 ]}
]
}
